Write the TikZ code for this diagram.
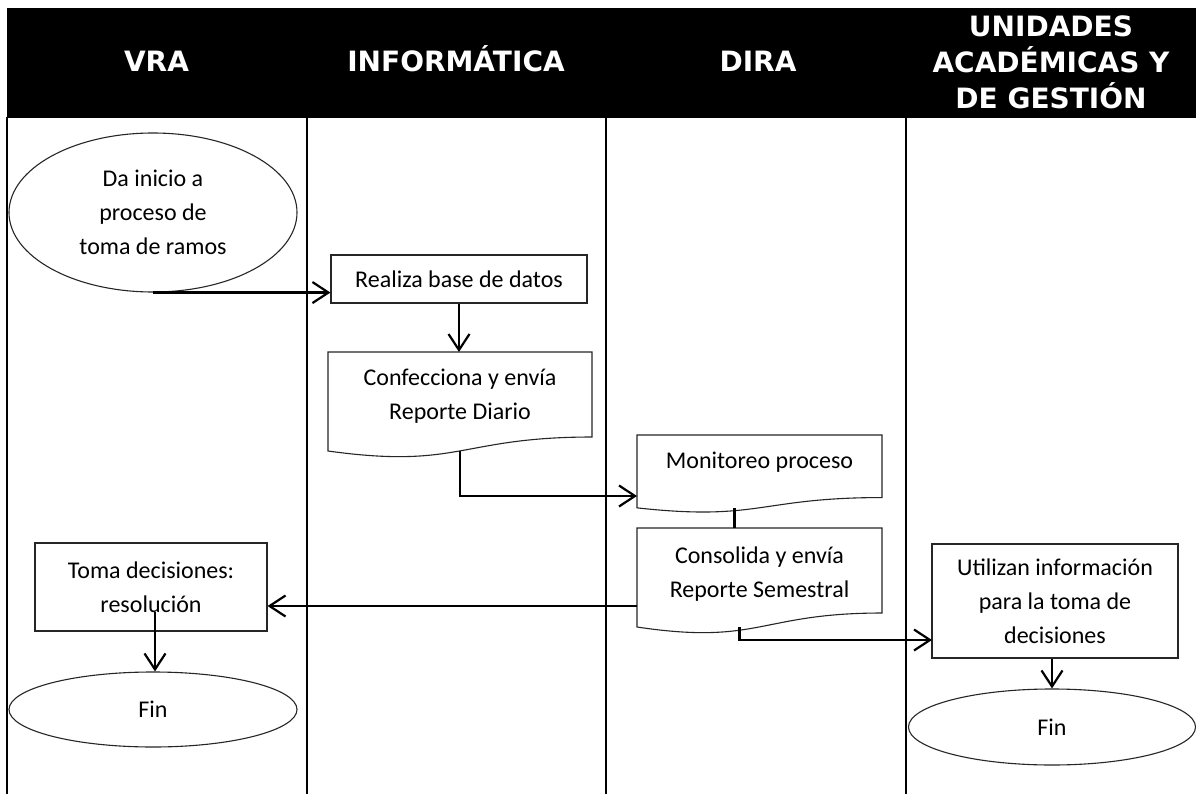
\documentclass[tikz,border=0pt]{standalone}
\usepackage{fontspec}
\setmainfont{Carlito}
\newfontfamily\headfont{DejaVu Sans}
\usetikzlibrary{arrows.meta,shapes.geometric,calc}

\tikzset{
  lane/.style={line width=2pt},
  headtext/.style={text=white, font=\headfont\bfseries\fontsize{28}{36}\selectfont, align=center, inner sep=0pt},
  headone/.style={headtext, text height=20pt, text depth=0pt},
  bodyfont/.style={font=\fontsize{24}{34}\selectfont},
  boxnode/.style={bodyfont, draw=black!85, line width=1.1pt, align=center, inner sep=0pt},
  ellnode/.style={bodyfont, ellipse, draw=black!85, line width=1.1pt, align=center, inner sep=0pt},
  doctext/.style={bodyfont, align=center, inner sep=0pt},
  shapeline/.style={draw=black!85, line width=1.1pt},
  conn/.style={line width=2.2pt, -{Straight Barb[length=16pt,width=21pt,line width=2.2pt]}},
  plainconn/.style={line width=2.2pt}
}

% document shape: name, center x, top y, width, height
\newcommand\docshape[5]{%
  \pgfmathsetmacro\dxl{#2-#4/2}%
  \pgfmathsetmacro\dxr{#2+#4/2}%
  \pgfmathsetmacro\dyr{#3+0.802*#5}%
  \pgfmathsetmacro\dyc{#3+1.1075*#5}%
  \pgfmathsetmacro\dyl{#3+0.934*#5}%
  \pgfmathsetmacro\dyb{#3+0.933*#5}%
  \draw[shapeline] (\dxl,#3) -- (\dxr,#3) -- (\dxr,\dyr)
     .. controls (#2,\dyr) and (#2,\dyc) .. (\dxl,\dyl) -- cycle;
  \coordinate (#1-t) at (#2,#3);
  \coordinate (#1-b) at (#2,\dyb);
}

\begin{document}
\begin{tikzpicture}[x=1pt,y=-1pt]
\useasboundingbox[fill=white] (0,0) rectangle (1196,794);

% header band
\fill[black] (7,8) rectangle (1196,118);
\node[headone] (hvra) at (156.5,62) {VRA};
\node[headone] (hinf) at (456,62) {INFORMÁTICA};
\node[headone] (hdira) at (758,62) {DIRA};
\node[headtext] (huni) at (1051,62) {UNIDADES\\ACADÉMICAS Y\\DE GESTIÓN};

% lane dividers
\draw[lane] (7,117) -- (7,794);
\draw[lane] (306.5,117) -- (306.5,794);
\draw[lane] (606,117) -- (606,794);
\draw[lane] (906,117) -- (906,794);

% VRA lane
\node[ellnode, minimum width=288pt, minimum height=159pt] (ini) at (153,212.5)
  {Da inicio a\\proceso de\\toma de ramos};
\node[boxnode, minimum width=232pt, minimum height=88pt] (toma) at (151,587)
  {Toma decisiones:\\resolución};
\node[ellnode, minimum width=288pt, minimum height=75pt] (fin1) at (153,709.5) {Fin};

% INFORMATICA lane
\node[boxnode, minimum width=256pt, minimum height=48pt] (real) at (459,279)
  {Realiza base de datos};
\docshape{conf}{460}{352}{264}{106}
\node[doctext, minimum width=264pt] (conf) at (460,396)
  {Confecciona y envía\\Reporte Diario};

% DIRA lane
\docshape{mon}{759.5}{435}{245}{78}
\node[doctext, minimum width=245pt] (mon) at (759.5,462) {Monitoreo proceso};
\docshape{cons}{759.5}{528}{245}{106}
\node[doctext, minimum width=245pt] (cons) at (759.5,574)
  {Consolida y envía\\Reporte Semestral};

% UNIDADES lane
\node[boxnode, minimum width=246pt, minimum height=114pt] (uti) at (1055,601)
  {Utilizan información\\para la toma de\\decisiones};
\node[ellnode, minimum width=287pt, minimum height=76pt] (fin2) at (1052,727) {Fin};

% connector end points
\coordinate (monIn) at (637,496);
\coordinate (consOut) at (637,606);
\coordinate (utiIn) at (932,640);
\coordinate (tomaOut) at (155,612);

% connectors
\draw[conn] (ini.south) -- (ini.south -| real.west);
\draw[conn] (real.south) -- (real.south |- conf-t);
\draw[conn] (conf-b) |- (monIn);
\draw[plainconn] ([xshift=-25pt]mon-b) -- ([xshift=-25pt]cons-t);
\draw[conn] (consOut) -- (consOut -| toma.east);
\draw[conn] ([xshift=-20pt]cons-b) |- (utiIn);
\draw[conn] (tomaOut) -- (tomaOut |- fin1.north);
\draw[conn] (fin2.north |- uti.south) -- (fin2.north);
\end{tikzpicture}
\end{document}
